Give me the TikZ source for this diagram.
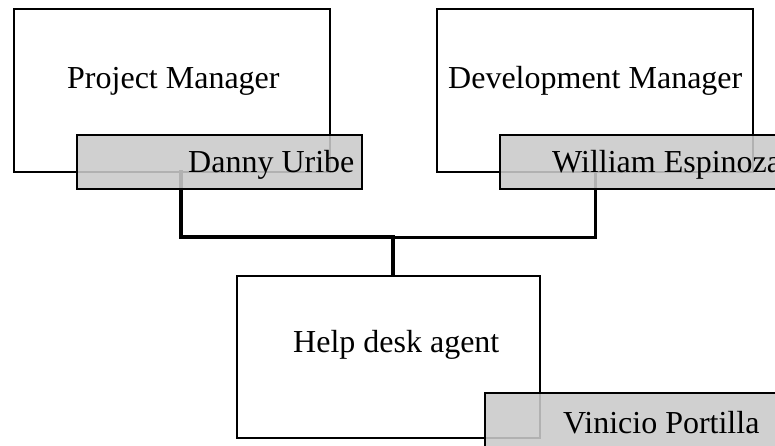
\documentclass[tikz,border=0pt]{standalone}
\usepackage{fontspec}
\setmainfont{Liberation Serif}
\definecolor{namegray}{RGB}{202,202,202}
\begin{document}
\begin{tikzpicture}[x=1pt,y=-1pt,
  rolebox/.style={draw=black,line width=2pt,fill=white,inner sep=0pt,outer sep=0pt,anchor=north west},
  namebox/.style={draw=black,line width=2pt,fill=namegray,fill opacity=0.88,draw opacity=1,inner sep=0pt,outer sep=0pt,anchor=north west},
  lbl/.style={inner sep=0pt,anchor=base west,font=\fontsize{32}{38}\selectfont,text opacity=1},
  thickconn/.style={line width=4.5pt,line cap=rect},
  conn/.style={line width=3pt,line cap=rect}]
\useasboundingbox (0,0) rectangle (775,445);
\clip (0,0) rectangle (775,445);
% role boxes
\node[rolebox,minimum width=316pt,minimum height=163pt] (pm) at (14,9) {};
\node[rolebox,minimum width=316pt,minimum height=163pt] (dm) at (437,9) {};
\node[rolebox,minimum width=303pt,minimum height=162pt] (help) at (237,276) {};
% junction
\coordinate (j) at (393,237);
% connectors
\draw[thickconn] ([xshift=9pt]pm.south) |- (j);
\draw[conn] (dm.south) |- (j);
\draw[line width=3.5pt] (j) -- (j |- help.north);
% name boxes
\node[namebox,minimum width=285pt,minimum height=54pt] (danny) at (77,135) {};
\node[namebox,minimum width=300pt,minimum height=54pt] (will) at (500,135) {};
\node[namebox,minimum width=300pt,minimum height=60pt] (vin) at (485,393) {};
% labels
\node[lbl] (t1) at (67,88) {Project Manager};
\node[lbl] (t2) at (448,88) {Development Manager};
\node[lbl] (t3) at (293,352) {Help desk agent};
\node[lbl] (t4) at (188,172) {Danny Uribe};
\node[lbl] (t5) at (552,172) {William Espinoza};
\node[lbl] (t6) at (563,433) {Vinicio Portilla};
\end{tikzpicture}
\end{document}
